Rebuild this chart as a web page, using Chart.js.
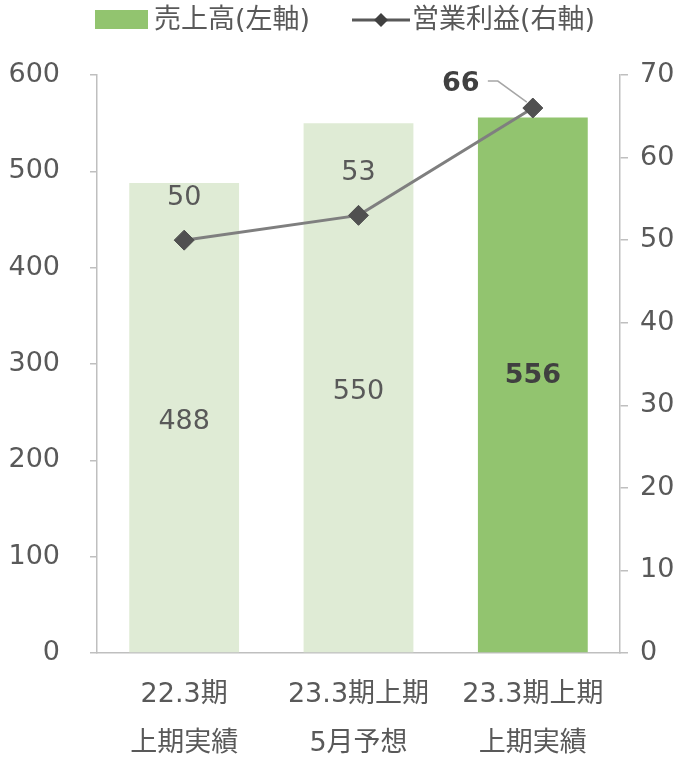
<!DOCTYPE html>
<html><head><meta charset="utf-8">
<script src="https://cdn.jsdelivr.net/npm/chart.js@4/dist/chart.umd.min.js"></script>
<style>html,body{margin:0;padding:0;background:#fff;}#wrap{width:682px;height:758px;}</style>
</head><body><div id="wrap"><canvas id="c" width="682" height="758"></canvas></div>
<script>
const categories = [['22.3期','上期実績'], ['23.3期上期','5月予想'], ['23.3期上期','上期実績']];
const salesValues = [488, 550, 556];
const profitValues = [50, 53, 66];
const salesLabel = '売上高(左軸)';
const profitLabel = '営業利益(右軸)';
const leftTicks = [0,100,200,300,400,500,600];
const rightTicks = [0,10,20,30,40,50,60,70];

const FONT = "'DejaVu Sans', 'Noto Sans CJK JP', sans-serif";
const FS = 27;
const TXT = '#595959';
const AXIS = '#bfbfbf';
const LIGHT = '#dfebd5';
const DARK = '#92c46f';

const labelPlugin = {
  id: 'labels',
  afterDatasetsDraw(chart) {
    const ctx = chart.ctx;
    ctx.save();
    ctx.textAlign = 'center';
    ctx.textBaseline = 'middle';
    const bars = chart.getDatasetMeta(1).data;
    bars.forEach((el, i) => {
      const last = i === bars.length - 1;
      ctx.font = (last ? 'bold ' : '') + FS + 'px ' + FONT;
      ctx.fillStyle = last ? '#404040' : TXT;
      ctx.fillText(String(salesValues[i]), el.x, (el.y + el.base) / 2 + (last ? -9 : 4));
    });
    const pts = chart.getDatasetMeta(0).data;
    pts.forEach((el, i) => {
      const last = i === pts.length - 1;
      if (!last) {
        ctx.font = FS + 'px ' + FONT;
        ctx.fillStyle = TXT;
        ctx.fillText(String(profitValues[i]), el.x, el.y - 42);
      } else {
        ctx.font = 'bold ' + FS + 'px ' + FONT;
        ctx.fillStyle = '#404040';
        ctx.fillText(String(profitValues[i]), el.x - 72, el.y - 24);
        ctx.strokeStyle = '#a6a6a6';
        ctx.lineWidth = 1.5;
        ctx.beginPath();
        ctx.moveTo(el.x - 45, el.y - 27);
        ctx.lineTo(el.x - 35, el.y - 27);
        ctx.lineTo(el.x - 6, el.y - 6);
        ctx.stroke();
      }
    });
    ctx.restore();
  },
  afterDraw(chart) {
    const ctx = chart.ctx;
    ctx.save();
    ctx.fillStyle = DARK;
    ctx.fillRect(95, 10, 53, 19);
    ctx.font = FS + 'px ' + FONT;
    ctx.fillStyle = TXT;
    ctx.textBaseline = 'middle';
    ctx.textAlign = 'left';
    ctx.fillText(salesLabel, 154, 21);
    ctx.strokeStyle = '#595959';
    ctx.lineWidth = 3;
    ctx.beginPath(); ctx.moveTo(352, 20); ctx.lineTo(410, 20); ctx.stroke();
    ctx.fillStyle = '#404040';
    ctx.beginPath();
    ctx.moveTo(381, 13); ctx.lineTo(388, 20); ctx.lineTo(381, 27); ctx.lineTo(374, 20); ctx.closePath();
    ctx.fill();
    ctx.fillStyle = TXT;
    ctx.fillText(profitLabel, 412, 21);
    ctx.restore();
  }
};

new Chart(document.getElementById('c'), {
  data: {
    labels: categories,
    datasets: [
      {
        type: 'line', label: profitLabel, data: profitValues, yAxisID: 'y1', order: 0,
        borderColor: '#7f7f7f', borderWidth: 3, pointStyle: 'rectRot', pointRadius: 10,
        pointBackgroundColor: '#505050', pointBorderColor: '#505050', pointBorderWidth: 1, tension: 0
      },
      {
        type: 'bar', label: salesLabel, data: salesValues, yAxisID: 'y', order: 1,
        backgroundColor: [LIGHT, LIGHT, DARK], categoryPercentage: 1, barPercentage: 0.63
      }
    ]
  },
  options: {
    responsive: false, animation: false,
    layout: { padding: { top: 75, right: 0, left: 0, bottom: 0 } },
    plugins: { legend: { display: false }, tooltip: { enabled: false } },
    scales: {
      x: {
        grid: { display: false, drawTicks: false },
        border: { display: true, color: AXIS, width: 1.5 },
        ticks: { color: TXT, font: { family: FONT, size: FS, lineHeight: 49 / FS }, padding: 17, maxRotation: 0, autoSkip: false },
        afterFit(s) { s.height = 105; }
      },
      y: {
        position: 'left', min: 0, max: 600,
        afterBuildTicks(s) { s.ticks = leftTicks.map(v => ({ value: v })); },
        grid: { drawOnChartArea: false, drawTicks: true, tickLength: 7, color: AXIS, lineWidth: 1.5 },
        border: { display: true, color: AXIS, width: 1.5 },
        ticks: { color: TXT, font: { family: FONT, size: FS }, padding: 30 },
        afterFit(s) { s.width = 97; }
      },
      y1: {
        position: 'right', min: 0, max: 70,
        afterBuildTicks(s) { s.ticks = rightTicks.map(v => ({ value: v })); },
        grid: { drawOnChartArea: false, drawTicks: true, tickLength: 8, color: AXIS, lineWidth: 1.5 },
        border: { display: true, color: AXIS, width: 1.5 },
        ticks: { color: TXT, font: { family: FONT, size: FS }, padding: 12 },
        afterFit(s) { s.width = 62; }
      }
    }
  },
  plugins: [labelPlugin]
});
</script></body></html>
